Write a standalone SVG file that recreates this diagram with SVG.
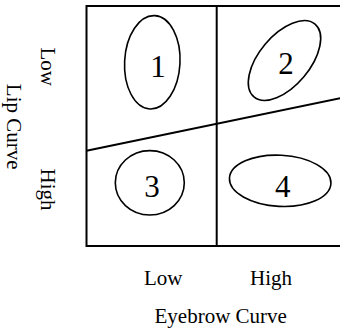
<svg xmlns="http://www.w3.org/2000/svg" width="340" height="330" viewBox="0 0 340 330">
<style>
.lbl{font-family:"Liberation Serif","Times New Roman",serif;font-size:21px;fill:#000;text-anchor:middle}
.num{font-family:"Liberation Serif","Times New Roman",serif;font-size:31px;fill:#000;text-anchor:middle}
.ell{fill:none;stroke:#000;stroke-width:1.6}
.ln{fill:none;stroke:#000;stroke-width:2}
</style>
<rect width="340" height="330" fill="#fff"/>
<g id="connectors">
<rect class="ln" x="86.5" y="6" width="262" height="240"/>
<line class="ln" x1="216.7" y1="6" x2="216.7" y2="246"/>
<line class="ln" x1="86.5" y1="150.7" x2="348" y2="96.5"/>
</g>
<g id="node1">
<ellipse class="ell" cx="152.3" cy="62.3" rx="27.7" ry="46.7" transform="rotate(3 152.3 62.3)"/>
<text class="num" x="158" y="77">1</text>
</g>
<g id="node2">
<ellipse class="ell" cx="284.5" cy="60.5" rx="47.5" ry="25.3" transform="rotate(-50 284.5 60.5)"/>
<text class="num" x="286" y="74">2</text>
</g>
<g id="node3">
<ellipse class="ell" cx="149.8" cy="182.8" rx="34.5" ry="32.2"/>
<text class="num" x="152" y="196.5">3</text>
</g>
<g id="node4">
<ellipse class="ell" cx="280.2" cy="180.8" rx="50.8" ry="25.6" transform="rotate(3 280.2 180.8)"/>
<text class="num" x="282.7" y="196.5">4</text>
</g>
<g id="labels">
<text class="lbl" x="163.3" y="285">Low</text>
<text class="lbl" x="271" y="285">High</text>
<text class="lbl" x="220.7" y="323">Eyebrow Curve</text>
<text class="lbl" transform="translate(7 126.7) rotate(90)">Lip Curve</text>
<text class="lbl" transform="translate(40.5 66.7) rotate(90)">Low</text>
<text class="lbl" transform="translate(41 189.5) rotate(90)">High</text>
</g>
</svg>
